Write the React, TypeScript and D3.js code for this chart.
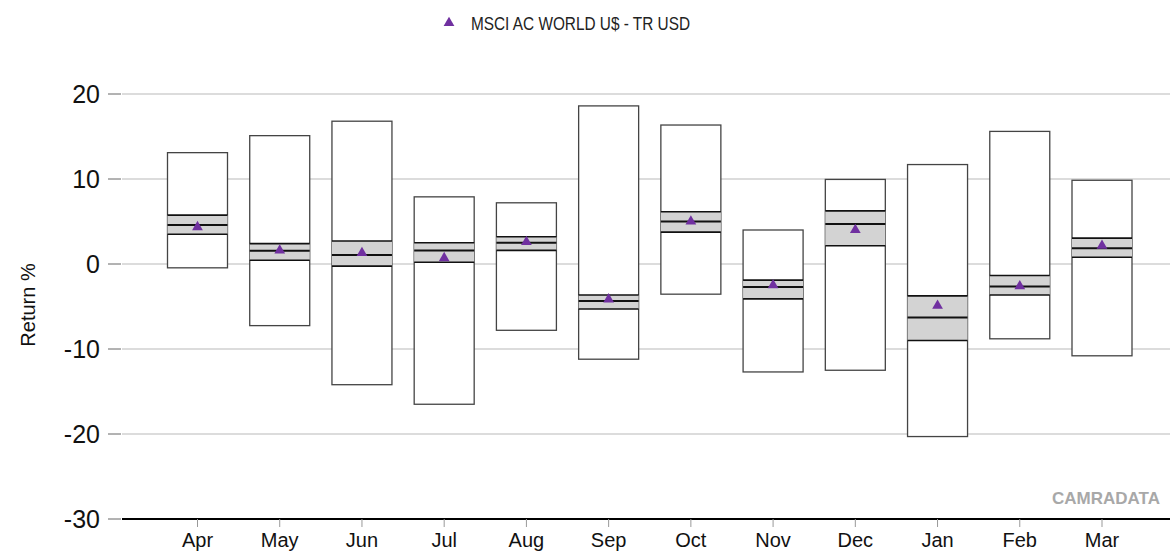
import * as d3 from "d3";

const months = ["Apr", "May", "Jun", "Jul", "Aug", "Sep", "Oct", "Nov", "Dec", "Jan", "Feb", "Mar"];
// range (max / min) and inter-quartile band with median
const highs = [13.1, 15.1, 16.8, 7.9, 7.2, 18.6, 16.35, 4.0, 9.95, 11.7, 15.6, 9.85];
const lows = [-0.45, -7.25, -14.2, -16.5, -7.8, -11.2, -3.55, -12.7, -12.5, -20.3, -8.8, -10.8];
const upperQ = [5.75, 2.4, 2.7, 2.5, 3.2, -3.65, 6.15, -1.9, 6.25, -3.75, -1.35, 3.05];
const medians = [4.6, 1.55, 1.05, 1.6, 2.5, -4.35, 5.0, -2.7, 4.7, -6.3, -2.65, 1.85];
const lowerQ = [3.5, 0.45, -0.25, 0.2, 1.6, -5.3, 3.75, -4.1, 2.15, -9.0, -3.65, 0.8];
const index = [4.35, 1.6, 1.3, 0.7, 2.6, -4.15, 5.0, -2.5, 4.0, -4.9, -2.6, 2.15];
const yTicks = [20, 10, 0, -10, -20, -30];

const W = 1170;
const H = 554;
const FONT = "'Liberation Sans', Arial, sans-serif";
const PURPLE = "#7030a0";

export default function App() {
  const x = d3.scalePoint<string>().domain(months).range([197.5, 1102]);
  const y = d3.scaleLinear().domain([-30, 20]).range([519, 94]);
  const boxW = 60;
  const tri = d3.symbol().type(d3.symbolTriangle).size(50);

  return (
    <svg width={W} height={H} style={{ position: "absolute", left: 0, top: 0, background: "#fff" }} fontFamily={FONT}>
      {/* legend */}
      <path d={tri()!} transform="translate(449,23)" fill={PURPLE} />
      <text x={471} y={30} fontSize={17.5} fill="#222" textLength={219} lengthAdjust="spacingAndGlyphs">
        MSCI AC WORLD U$ - TR USD
      </text>

      {/* grid + y axis */}
      {yTicks.map((t) => (
        <g key={t}>
          {t !== -30 && <line x1={122} x2={W} y1={y(t)} y2={y(t)} stroke="#dcdcdc" strokeWidth={2} />}
          <line x1={108} x2={121} y1={y(t)} y2={y(t)} stroke="#666" strokeWidth={1} />
          <text x={100} y={y(t) + 8.5} textAnchor="end" fontSize={25} fill="#111">
            {t}
          </text>
        </g>
      ))}
      <text transform="translate(35,305) rotate(-90)" textAnchor="middle" fontSize={20} fill="#111">
        Return %
      </text>

      {/* boxes */}
      {months.map((m, i) => {
        const cx = x(m)!;
        const x0 = cx - boxW / 2;
        return (
          <g key={m}>
            <rect x={x0} y={y(highs[i])} width={boxW} height={y(lows[i]) - y(highs[i])} fill="#fff" stroke="#444" strokeWidth={1.3} />
            <rect x={x0} y={y(upperQ[i])} width={boxW} height={y(lowerQ[i]) - y(upperQ[i])} fill="#d3d3d3" />
            {[upperQ[i], medians[i], lowerQ[i]].map((v, k) => (
              <line key={k} x1={x0} x2={x0 + boxW} y1={y(v)} y2={y(v)} stroke="#111" strokeWidth={k === 1 ? 2 : 1.6} />
            ))}
            <path d={tri()!} transform={`translate(${cx},${y(index[i])})`} fill={PURPLE} />
          </g>
        );
      })}

      {/* x axis */}
      <line x1={122} x2={W} y1={y(-30)} y2={y(-30)} stroke="#000" strokeWidth={2.2} />
      {months.map((m) => (
        <g key={m}>
          <line x1={x(m)!} x2={x(m)!} y1={y(-30)} y2={y(-30) + 8} stroke="#999" strokeWidth={1} />
          <text x={x(m)!} y={547} textAnchor="middle" fontSize={20} fill="#111">
            {m}
          </text>
        </g>
      ))}

      <text x={1160} y={504} textAnchor="end" fontSize={17} fontWeight="bold" fill="#a8a8a8">
        CAMRADATA
      </text>
    </svg>
  );
}
